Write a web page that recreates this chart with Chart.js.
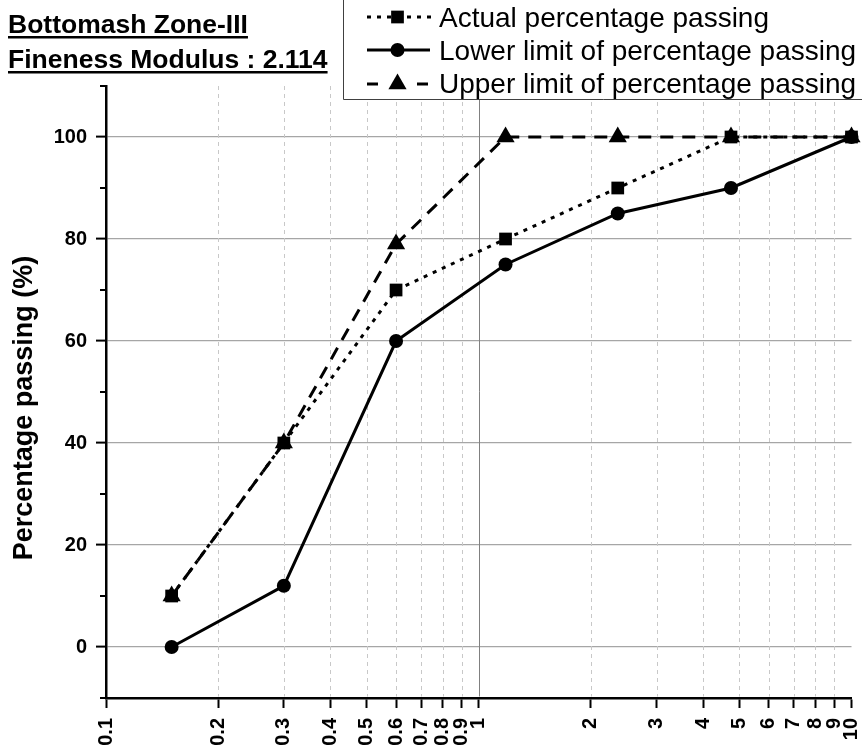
<!DOCTYPE html>
<html>
<head>
<meta charset="utf-8">
<title>Bottomash Zone-III grading curve</title>
<script src="https://cdn.jsdelivr.net/npm/chart.js@4/dist/chart.umd.min.js"></script>
<style>
  html, body { margin: 0; padding: 0; background: #ffffff; }
  #wrap { position: relative; width: 862px; height: 753px; }
</style>
</head>
<body>
<div id="wrap"><canvas id="c" width="862" height="753"></canvas></div>
<script>
// Sieve sizes (mm) and percentage passing for each curve
const sieveSizes    = [0.15, 0.3, 0.6, 1.18, 2.36, 4.75, 10];
const actualPassing = [10, 40, 70, 80, 90, 100, 100];
const lowerLimit    = [0, 12, 60, 75, 85, 90, 100];
const upperLimit    = [10, 40, 79, 100, 100, 100, 100];

// Axis tick values
const xTickValues   = [0.1, 0.2, 0.3, 0.4, 0.5, 0.6, 0.7, 0.8, 0.9, 1, 2, 3, 4, 5, 6, 7, 8, 9, 10];
const yTickValues   = [0, 20, 40, 60, 80, 100];
const yMinorTicks   = [-10, 10, 30, 50, 70, 90, 110];

// Text
const seriesNames   = ['Actual percentage passing', 'Lower limit of percentage passing', 'Upper limit of percentage passing'];
const headingLines  = ['Bottomash Zone-III', 'Fineness Modulus : 2.114'];
const yAxisTitle    = 'Percentage passing (%)';

// Styling
const FONT = "'Liberation Sans', Arial, Helvetica, sans-serif";
const INK = '#000000';
const LINE_W = 3;
const seriesStyles = [
  { marker: 'rect',     radius: 9,    dash: [4, 6],  order: 1 },
  { marker: 'circle',   radius: 7,    dash: [],      order: 0 },
  { marker: 'triangle', radius: 10.5, dash: [13, 9], order: 2 }
];
const seriesValues = [actualPassing, lowerLimit, upperLimit];

function drawMarker(ctx, style, x, y, r) {
  ctx.beginPath();
  if (style === 'rect') {
    const s = Math.SQRT1_2 * r;
    ctx.rect(x - s, y - s, 2 * s, 2 * s);
  } else if (style === 'triangle') {
    const k = Math.sin(2 * Math.PI / 3) * r;
    ctx.moveTo(x, y - r);
    ctx.lineTo(x + k, y + r / 2);
    ctx.lineTo(x - k, y + r / 2);
    ctx.closePath();
  } else {
    ctx.arc(x, y, r, 0, Math.PI * 2);
  }
  ctx.fillStyle = INK;
  ctx.fill();
}

const datasets = seriesValues.map((vals, i) => ({
  label: seriesNames[i],
  data: sieveSizes.map((s, j) => ({ x: s, y: vals[j] })),
  borderColor: INK,
  backgroundColor: INK,
  borderWidth: LINE_W,
  borderDash: seriesStyles[i].dash,
  borderCapStyle: 'butt',
  pointStyle: seriesStyles[i].marker,
  pointRadius: seriesStyles[i].radius,
  pointBackgroundColor: INK,
  pointBorderColor: INK,
  pointBorderWidth: 0,
  tension: 0,
  fill: false,
  clip: false,
  order: seriesStyles[i].order
}));

// Extra drawing: minor grid, minor ticks, axis title, headings and legend
const decor = {
  id: 'decor',
  beforeDatasetsDraw(chart) {
    const { ctx, chartArea } = chart;
    const xs = chart.scales.x;
    ctx.save();
    xTickValues.forEach(v => {
      if (v === xTickValues[0] || v === xTickValues[xTickValues.length - 1]) return;
      const px = Math.round(xs.getPixelForValue(v)) + 0.5;
      ctx.beginPath();
      if (v === 1) {
        ctx.strokeStyle = '#808080';
        ctx.setLineDash([]);
      } else {
        ctx.strokeStyle = '#c8c8c8';
        ctx.setLineDash([4, 4]);
      }
      ctx.lineWidth = 1;
      ctx.moveTo(px, chartArea.top);
      ctx.lineTo(px, chartArea.bottom - 1.5);
      ctx.stroke();
    });
    ctx.restore();
  },
  afterDraw(chart) {
    const { ctx, chartArea } = chart;
    const ys = chart.scales.y;
    ctx.save();

    // minor ticks on the y axis
    ctx.strokeStyle = INK;
    ctx.lineWidth = 2;
    yMinorTicks.forEach(v => {
      const py = ys.getPixelForValue(v);
      ctx.beginPath();
      ctx.moveTo(chartArea.left - 6, py);
      ctx.lineTo(chartArea.left, py);
      ctx.stroke();
    });

    // y axis title
    ctx.save();
    ctx.translate(32, 408);
    ctx.rotate(-Math.PI / 2);
    ctx.font = 'bold 27px ' + FONT;
    ctx.fillStyle = INK;
    ctx.textAlign = 'center';
    ctx.textBaseline = 'alphabetic';
    ctx.fillText(yAxisTitle, 0, 0);
    ctx.restore();

    // underlined headings
    ctx.font = 'bold 26.5px ' + FONT;
    ctx.fillStyle = INK;
    ctx.textAlign = 'left';
    ctx.textBaseline = 'alphabetic';
    [33, 68].forEach((base, i) => {
      ctx.fillText(headingLines[i], 8, base);
      const w = ctx.measureText(headingLines[i]).width;
      ctx.fillRect(8, base + 3, w, 2.5);
    });

    // legend box
    ctx.fillStyle = '#ffffff';
    ctx.fillRect(343, -2, 530, 101.5);
    ctx.strokeStyle = '#404040';
    ctx.lineWidth = 1;
    ctx.setLineDash([]);
    ctx.beginPath();
    ctx.moveTo(343.5, -2);
    ctx.lineTo(343.5, 99.5);
    ctx.lineTo(870, 99.5);
    ctx.stroke();

    const rows = [17, 50, 84];
    const baselines = [27, 60, 93];
    rows.forEach((cy, i) => {
      const st = seriesStyles[i];
      ctx.strokeStyle = INK;
      ctx.lineWidth = LINE_W;
      ctx.lineCap = 'butt';
      if (st.marker === 'triangle') {
        ctx.setLineDash([]);
        ctx.beginPath();
        ctx.moveTo(367, cy); ctx.lineTo(378, cy);
        ctx.moveTo(417, cy); ctx.lineTo(428, cy);
        ctx.stroke();
      } else {
        ctx.setLineDash(st.dash);
        ctx.beginPath();
        ctx.moveTo(367, cy);
        ctx.lineTo(st.dash.length ? 431 : 430, cy);
        ctx.stroke();
      }
      ctx.setLineDash([]);
      drawMarker(ctx, st.marker, 397.5, cy, st.radius);
      ctx.font = '28px ' + FONT;
      ctx.fillStyle = INK;
      ctx.textAlign = 'left';
      ctx.textBaseline = 'alphabetic';
      ctx.fillText(seriesNames[i], 439, baselines[i]);
    });

    ctx.restore();
  }
};

new Chart(document.getElementById('c'), {
  type: 'line',
  data: { datasets },
  options: {
    responsive: false,
    animation: false,
    devicePixelRatio: 1,
    layout: { padding: { top: 86, right: 6, bottom: 0, left: 0 } },
    plugins: {
      legend: { display: false },
      tooltip: { enabled: false },
      title: { display: false }
    },
    scales: {
      x: {
        type: 'logarithmic',
        min: 0.1,
        max: 10,
        afterBuildTicks: s => { s.ticks = xTickValues.map(v => ({ value: v })); },
        afterFit: s => { s.height = 55; s.paddingLeft = 0; s.paddingRight = 0; },
        ticks: {
          autoSkip: false,
          minRotation: 90,
          maxRotation: 90,
          padding: 10,
          color: INK,
          font: { family: FONT, size: 20, weight: 'bold' },
          callback: v => String(v)
        },
        grid: {
          drawOnChartArea: false,
          drawTicks: true,
          tickLength: 10,
          tickColor: INK,
          tickWidth: 2
        },
        border: { display: true, color: INK, width: 2.5 }
      },
      y: {
        type: 'linear',
        min: -10,
        max: 110,
        afterBuildTicks: s => { s.ticks = yTickValues.map(v => ({ value: v })); },
        afterFit: s => { s.width = 106; s.paddingTop = 0; s.paddingBottom = 0; },
        ticks: {
          padding: 9,
          color: INK,
          font: { family: FONT, size: 20, weight: 'bold' },
          callback: v => String(v)
        },
        grid: {
          color: '#a6a6a6',
          lineWidth: 1.2,
          drawTicks: true,
          tickLength: 10,
          tickColor: INK,
          tickWidth: 2
        },
        border: { display: true, color: INK, width: 2.5 }
      }
    }
  },
  plugins: [decor]
});
</script>
</body>
</html>
